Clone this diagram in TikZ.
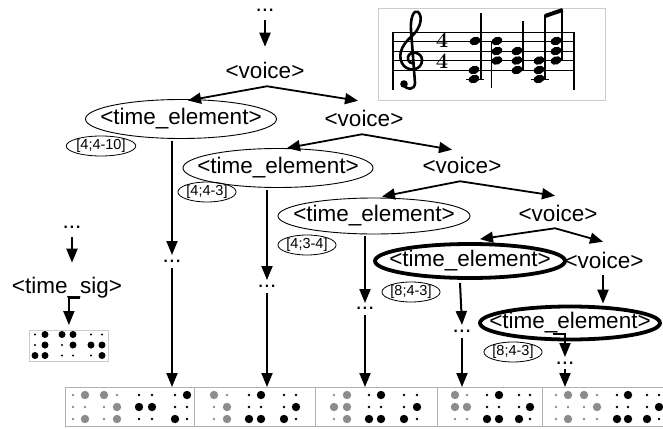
\documentclass[tikz,border=0pt]{standalone}
\usepackage{fontspec}
\newfontfamily\arial{Liberation Sans}
\usetikzlibrary{arrows.meta,shapes.geometric}
\definecolor{bgray}{HTML}{8C8C8C}
\definecolor{lgray}{HTML}{B0B0B0}
\definecolor{sgray}{HTML}{CCCCCC}
\def\brbig{4.2}
\def\brsm{1.3}
\newcommand{\brcell}[6]{%
  \foreach \a/\b [count=\r from 0] in {#6}{%
    \pgfmathsetmacro\yy{#3+\r*#4}%
    \pgfmathsetmacro\ra{\a==1?\brbig:\brsm}%
    \pgfmathsetmacro\rb{\b==1?\brbig:\brsm}%
    \fill[#5] (#1,\yy) circle[radius=\ra pt];
    \fill[#5] (#2,\yy) circle[radius=\rb pt];
  }}
\newcommand{\nh}[2]{\fill[rotate around={20:(#1,#2)}] (#1,#2) ellipse (5.6pt and 4.1pt);}
\begin{document}
\begin{tikzpicture}[x=1pt,y=-1pt,
  txt/.style={font=\arial\fontsize{22.5}{26}\selectfont, inner sep=0pt, outer sep=0pt},
  dotsn/.style={txt, anchor=base, text height=2.5pt, text depth=0pt},
  lbl/.style={draw, ellipse, line width=0.8pt, inner sep=0pt, minimum height=20pt, font=\arial\fontsize{14.5}{16}\selectfont},
  teel/.style={draw, ellipse, line width=0.9pt, inner sep=0pt, label={[txt]center:<time\_element>}},
  tethick/.style={teel, line width=3.8pt},
  arr/.style={line width=2pt, -{Triangle[length=14pt,width=11pt]}},
  darr/.style={line width=1.8pt, -{Triangle[length=13pt,width=11pt]}},
  boxst/.style={anchor=north west, inner sep=0pt, line width=0.8pt},
  tsig/.style={font=\bfseries\fontsize{22}{21}\selectfont, inner sep=0pt, align=center},
]
\useasboundingbox (0,0) rectangle (663,428);
\clip (0,0) rectangle (663,428);

% ---------- score excerpt ----------
\node[boxst, draw=sgray, minimum width=227pt, minimum height=92pt] (score) at (378,8) {};
\foreach \yl in {32,41.5,51,60.5,70} \draw[line width=0.9pt] (393,\yl) -- (575,\yl);
\draw[line width=1.4pt] (393,32) -- (393,90);
\draw[line width=1.4pt] (574,32) -- (574,90);
% treble clef
\draw[line width=2.6pt, line cap=round]
  (404,84) .. controls (406,91) and (415,90) .. (415,83)
  -- (411,30)
  .. controls (410,18) and (414,9) .. (418,12)
  .. controls (423,16) and (421,28) .. (412,36)
  .. controls (400,46) and (397,58) .. (404,66)
  .. controls (410,72) and (422,70) .. (422,60)
  .. controls (422,52) and (410,50) .. (408,57)
  .. controls (407,62) and (412,64) .. (414,63);
\fill (404,84) circle[radius=3.8pt];
% time signature
\node[tsig] (tsig) at (442,51) {4\\4};
% chords
\nh{475}{41}\nh{474}{70}\nh{474}{79}
\draw[line width=1.1pt] (466,79.5) -- (484,79.5);
\draw[line width=1.2pt] (481,13) -- (481,80);
\nh{497}{41}\nh{497}{51}\nh{497}{60.5}
\draw[line width=1.2pt] (491.5,41) -- (491.5,88);
\nh{517}{51}\nh{517}{60.5}\nh{517}{70}
\draw[line width=1.2pt] (523,21) -- (523,70);
\nh{539}{60.5}\nh{539}{70}\nh{539}{79}
\draw[line width=1.1pt] (531,79.5) -- (549,79.5);
\draw[line width=1.2pt] (545,15) -- (545,79);
\nh{556}{41}\nh{556}{51}\nh{556}{60.5}
\draw[line width=1.2pt] (562,9) -- (562,60);
\draw[line width=4pt] (545,16) -- (562.6,10);

% ---------- tree ----------
\node[dotsn] (d0) at (265,12) {...};
\node[txt] (v1) at (265,70) {<voice>};
\node[teel, minimum width=191pt, minimum height=39pt] (te1) at (181,119) {};
\node[lbl] (l1) at (101,146) {[4;4-10]};
\node[txt] (v2) at (364,118) {<voice>};
\node[teel, minimum width=190pt, minimum height=39pt] (te2) at (278,168) {};
\node[lbl] (l2) at (207,192) {[4;4-3]};
\node[txt] (v3) at (462,165) {<voice>};
\node[teel, minimum width=192pt, minimum height=36pt] (te3) at (374,216) {};
\node[lbl] (l3) at (307,245) {[4;3-4]};
\node[txt] (v4) at (558,213) {<voice>};
\node[tethick, minimum width=190pt, minimum height=34pt] (te4) at (470,261) {};
\node[txt] (v5) at (604,260) {<voice>};
\node[lbl] (l4) at (411,292) {[8;4-3]};
\node[tethick, minimum width=180pt, minimum height=33pt] (te5) at (570,323) {};
\node[lbl] (l5) at (513,352) {[8;4-3]};

\node[dotsn] (d1) at (172,262) {...};
\node[dotsn] (d2) at (267,287) {...};
\node[dotsn] (d3) at (365,309) {...};
\node[dotsn] (d4) at (462,332) {...};
\node[dotsn] (d5) at (565,364) {...};

\node[dotsn] (dts) at (72,228) {...};
\node[txt, anchor=base] (ts) at (67,293) {<time\_sig>};

% braille strip
\node[boxst, draw=lgray, minimum width=610pt, minimum height=39pt] (strip) at (65,387) {};
\foreach \xd in {194,315,437,542} \draw[lgray, line width=0.8pt] (\xd,387) -- (\xd,426);
\brcell{73}{85}{395}{12}{bgray}{0/1,0/0,0/1}
\brcell{104}{117}{395}{12}{bgray}{1/0,0/1,0/1}
\brcell{139}{152}{395}{12}{black}{0/0,1/1,0/0}
\brcell{175}{187}{395}{12}{black}{0/1,0/0,1/0}
\brcell{214}{227}{395}{12}{bgray}{1/0,0/1,0/1}
\brcell{249}{261}{395}{12}{black}{0/1,0/0,1/1}
\brcell{284}{296}{395}{12}{black}{0/0,0/1,1/0}
\brcell{334}{347}{395}{12}{bgray}{0/1,1/1,0/1}
\brcell{369}{381}{395}{12}{black}{0/1,0/0,1/1}
\brcell{404}{417}{395}{12}{black}{0/0,0/1,1/0}
\brcell{455}{467}{395}{12}{bgray}{1/0,1/1,0/0}
\brcell{487}{499}{395}{12}{black}{0/1,0/0,1/1}
\brcell{519}{530}{395}{12}{black}{0/0,0/1,1/0}
\brcell{556}{568}{395}{12}{bgray}{0/1,0/0,0/1}
\brcell{584}{597}{395}{12}{bgray}{1/0,0/1,0/0}
\brcell{617}{628}{395}{12}{black}{0/1,0/0,1/1}
\brcell{647}{659}{395}{12}{black}{0/0,0/1,1/0}

% time signature braille
\node[boxst, draw=sgray, minimum width=79pt, minimum height=31pt] (tsbox) at (29,330) {};
\def\brbig{3.5}
\def\brsm{1.1}
\brcell{35}{45}{334.5}{10.5}{black}{0/1,0/1,1/1}
\brcell{62}{73}{334.5}{10.5}{black}{1/1,0/1,0/0}
\brcell{91}{102}{334.5}{10.5}{black}{0/0,1/1,0/1}

% ---------- connectors ----------
\draw[arr] ([shift={(0,8)}]d0.base) -- ([shift={(0,-15)}]v1.north);
\draw[darr] ([shift={(2,8)}]v1.south) -- ([shift={(7,1.5)}]te1.north);
\draw[darr] ([shift={(2,8)}]v1.south) -- ([shift={(-6,-9)}]v2.north);
\draw[darr] ([shift={(-2,8)}]v2.south) -- ([shift={(9,0)}]te2.north);
\draw[darr] ([shift={(-2,8)}]v2.south) -- ([shift={(-10,-7)}]v3.north);
\draw[darr] ([shift={(-2,8)}]v3.south) -- ([shift={(8,-1)}]te3.north);
\draw[darr] ([shift={(-2,8)}]v3.south) -- ([shift={(-3,-9)}]v4.north);
\draw[darr] ([shift={(-3,7)}]v4.south) -- ([shift={(10,-3)}]te4.north);
\draw[darr] ([shift={(-3,7)}]v4.south) -- ([shift={(-1,-10)}]v5.north);
\draw[arr] ([shift={(-1,7)}]v5.south) -- ([shift={(33,-1)}]te5.north);

\draw[arr] ([shift={(-9,2)}]te1.south) -- ([shift={(0,-7)}]d1.base);
\draw[arr] ([shift={(0,6)}]d1.base) -- (d1.base |- strip.north);
\draw[arr] ([shift={(-11,2)}]te2.south) -- ([shift={(0,-7)}]d2.base);
\draw[arr] ([shift={(0,6)}]d2.base) -- (d2.base |- strip.north);
\draw[arr] ([shift={(-9,2)}]te3.south) -- ([shift={(0,-6)}]d3.base);
\draw[arr] ([shift={(0,6)}]d3.base) -- (d3.base |- strip.north);
\draw[arr] ([shift={(-10,3)}]te4.south) -- ([shift={(0,-7)}]d4.base);
\draw[arr] ([shift={(0,6)}]d4.base) -- (d4.base |- strip.north);
\draw[arr] ([shift={(-17,11)}]te5.center) -| ([shift={(0,-7)}]d5.base);
\draw[arr] ([shift={(0,5)}]d5.base) -- (d5.base |- strip.north);

\draw[arr] ([shift={(0,9)}]dts.base) -- ([shift={(5,-14)}]ts.north);
\draw[arr] ([shift={(13,5)}]ts.base) -| ([shift={(0,-5)}]tsbox.north);
\end{tikzpicture}
\end{document}
